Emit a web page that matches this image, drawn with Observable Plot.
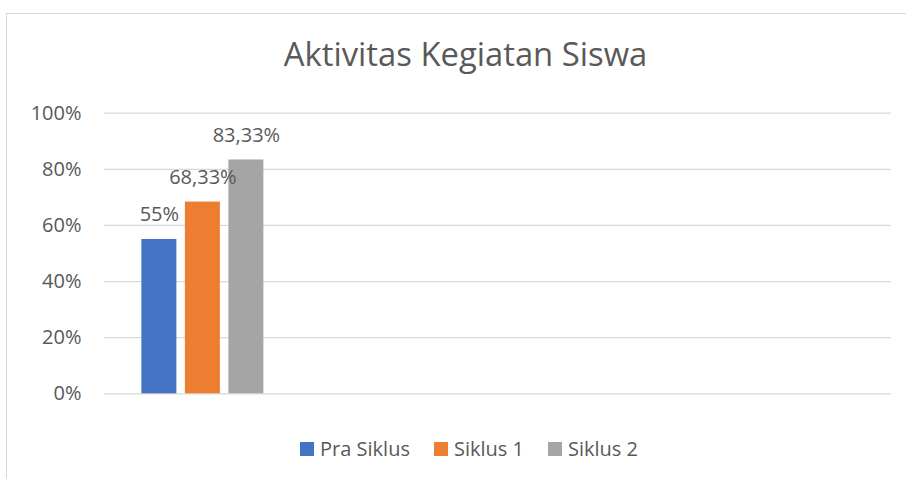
<!DOCTYPE html>
<html>
<head>
<meta charset="utf-8">
<script src="https://cdn.jsdelivr.net/npm/d3@7"></script>
<script src="https://cdn.jsdelivr.net/npm/@observablehq/plot@0.6"></script>
<style>
  html, body { margin: 0; padding: 0; background: #fff; overflow: hidden; }
  #wrap { position: relative; width: 906px; height: 479px; overflow: hidden; font-family: "Open Sans", sans-serif; color: #595959; }
  #frame { position: absolute; left: 6px; top: 13px; width: 1200px; height: 1000px; border: 1px solid #d9d9d9; box-sizing: border-box; }
  #title { position: absolute; left: 0; top: 38px; width: 931px; text-align: center; font-size: 32.8px; line-height: 32px; white-space: nowrap; }
  #legend { position: absolute; left: 0; top: 439px; width: 938px; display: flex; justify-content: center; gap: 24px; font-size: 20px; line-height: 20px; white-space: nowrap; }
  #legend .sw { display: inline-block; width: 14px; height: 14px; margin-right: 6px; }
  #chart { position: absolute; left: 0; top: 0; }
</style>
</head>
<body>
<div id="wrap">
  <div id="frame"></div>
  <div id="chart"></div>
  <div id="title"></div>
  <div id="legend"></div>
</div>
<script>
// ---- data ----
const title = "Aktivitas Kegiatan Siswa";
const categories = ["1", "2", "3", "4"];          // only the first category holds values
const series = ["Pra Siklus", "Siklus 1", "Siklus 2"];
const praSiklus = [55, null, null, null];
const siklus1 = [68.33, null, null, null];
const siklus2 = [83.33, null, null, null];
const colors = ["#4472C4", "#ED7D31", "#A5A5A5"];
const yTicks = [0, 20, 40, 60, 80, 100];

const seriesValues = [praSiklus, siklus1, siklus2];
const rows = [];
categories.forEach((c, i) => {
  series.forEach((s, j) => {
    rows.push({category: c, series: s, value: seriesValues[j][i]});
  });
});

const fmt = d => d == null ? null : String(d).replace(".", ",") + "%";

const chart = Plot.plot({
  width: 906,
  height: 479,
  marginTop: 112.7,
  marginBottom: 85.7,
  marginLeft: 104,
  marginRight: 15,
  style: {fontFamily: "Open Sans, sans-serif", fontSize: "20px", color: "#595959", background: "transparent"},
  fx: {domain: categories, axis: null, padding: 0, round: false},
  x: {type: "band", domain: series, axis: null, paddingInner: 0.1954, paddingOuter: 0.859, round: false},
  y: {domain: [0, 100], axis: null},
  color: {domain: series, range: colors},
  marks: [
    Plot.gridY(yTicks, {stroke: "#d9d9d9", strokeOpacity: 1, strokeWidth: 1.3, facetAnchor: null}),
    Plot.axisY(yTicks, {tickSize: 0, tickPadding: 23, tickFormat: d => d + "%", fontSize: 20, fill: "#595959", label: null}),
    Plot.barY(rows, {fx: "category", x: "series", y: "value", fill: "series"}),
    Plot.text(rows, {fx: "category", x: "series", y: "value", text: d => fmt(d.value), dy: -24.5, fontSize: 20, fill: "#595959"})
  ]
});
document.getElementById("chart").appendChild(chart);

document.getElementById("title").textContent = title;
const legend = document.getElementById("legend");
series.forEach((s, i) => {
  const item = document.createElement("div");
  const sw = document.createElement("span");
  sw.className = "sw";
  sw.style.background = colors[i];
  item.appendChild(sw);
  item.appendChild(document.createTextNode(s));
  legend.appendChild(item);
});
</script>
</body>
</html>
